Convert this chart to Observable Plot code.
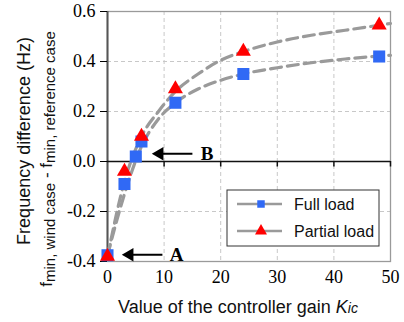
<!DOCTYPE html>
<html>
<head>
<meta charset="utf-8">
<script src="https://cdn.jsdelivr.net/npm/d3@7"></script>
<script src="https://cdn.jsdelivr.net/npm/@observablehq/plot@0.6"></script>
<style>
  body { margin: 0; background: #fff; }
  #chart svg { display: block; }
  #chart svg text { font-family: "Liberation Serif", "Times New Roman", serif !important; }
  #chart svg text.sans, #chart svg .sans text { font-family: "Liberation Sans", Arial, sans-serif !important; }
</style>
</head>
<body>
<div id="chart"></div>
<script>
// Measured frequency differences (Hz) against controller gain Kic
const fullK = [0, 3, 5, 6, 12, 24, 48];
const fullLoad = [-0.375, -0.09, 0.02, 0.08, 0.235, 0.35, 0.42];
const partialK = [0, 3, 6, 12, 24, 48];
const partialLoad = [-0.38, -0.04, 0.10, 0.29, 0.44, 0.545];

// Fitted trend curves (dashed)
const trendK = [0, 3, 6, 9, 12, 16, 20, 24, 30, 36, 42, 50];
const trendFull = [-0.375, -0.13, 0.06, 0.17, 0.235, 0.29, 0.325, 0.35, 0.375, 0.395, 0.41, 0.425];
const trendPartial = [-0.38, -0.08, 0.10, 0.20, 0.28, 0.35, 0.405, 0.44, 0.478, 0.505, 0.525, 0.552];

// Axis ticks
const xTicks = [0, 10, 20, 30, 40, 50];
const yTicks = [-0.4, -0.2, 0.0, 0.2, 0.4, 0.6];
const xGrid = [10, 20, 30, 40];
const yGrid = [-0.2, 0.2, 0.4];

// Annotations: arrows pointing at the labelled operating points
const noteLabels = ["A", "B"];
const noteY = [-0.373, 0.031];
const noteTipX = [2.8, 8.1];
const noteTailX = [9.7, 15.0];
const noteTextX = [12.2, 17.6];

const fullData = fullK.map((k, i) => ({k, v: fullLoad[i]}));
const partialData = partialK.map((k, i) => ({k, v: partialLoad[i]}));
const trendData = trendK.flatMap((k, i) => [
  {k, v: trendFull[i], s: "full"},
  {k, v: trendPartial[i], s: "partial"}
]);
const notes = noteLabels.map((t, i) => ({t, y: noteY[i], tip: noteTipX[i], tail: noteTailX[i], tx: noteTextX[i]}));

const blue = "#3069f5";
const red = "#ff0000";
const dashGray = "#9a9a9a";

const plot = Plot.plot({
  width: 404,
  height: 322,
  marginLeft: 107,
  marginRight: 14,
  marginTop: 11,
  marginBottom: 61,
  style: {background: "#fff", overflow: "visible"},
  x: {domain: [0, 50]},
  y: {domain: [-0.4, 0.6]},
  marks: [
    // dashed grid
    Plot.ruleX(xGrid, {stroke: "#c8c8c8", strokeDasharray: "4,3", strokeWidth: 1}),
    Plot.ruleY(yGrid, {stroke: "#c8c8c8", strokeDasharray: "4,3", strokeWidth: 1}),
    // plot frame
    Plot.frame({stroke: "#9a9a9a", strokeWidth: 1.3}),
    Plot.ruleX([0], {stroke: "#555", strokeWidth: 2}),
    // zero line with small ticks
    Plot.ruleY([0], {stroke: "#111", strokeWidth: 1.5}),
    Plot.ruleX(xTicks.slice(1), {y1: 0, y2: -0.022, stroke: "#111", strokeWidth: 1.5}),
    Plot.axisY({ticks: yTicks, tickFormat: d => d.toFixed(1), tickSize: 7, tickPadding: 5,
      fontSize: 18, label: null}),
    Plot.axisX({ticks: xTicks, tickFormat: d => String(d), tickSize: 0, tickPadding: 9,
      fontSize: 18, label: null}),
    // fitted trend lines
    Plot.line(trendData, {x: "k", y: "v", z: "s", curve: "monotone-x", stroke: dashGray,
      strokeWidth: 3.2, strokeDasharray: "11,6"}),
    // markers
    Plot.dot(fullData, {x: "k", y: "v", symbol: "square", r: 6.8, fill: blue, stroke: "none"}),
    Plot.dot(partialData, {x: "k", y: "v", symbol: "triangle", r: 5.6, fill: red, stroke: "none"}),
    // annotation arrows
    Plot.link(notes, {x1: "tail", x2: d => d.tip + 1.6, y1: "y", y2: "y", stroke: "#000", strokeWidth: 2}),
    Plot.dot(notes, {x: d => d.tip + 1.1, y: "y", symbol: "triangle", r: 5, rotate: -90, fill: "#000", stroke: "none"}),
    Plot.text(notes, {x: "tx", y: "y", text: "t", fontWeight: "bold", fontSize: 19, fill: "#000"})
  ]
});

document.getElementById("chart").appendChild(plot);
const svg = d3.select(plot);

// y-axis title, two lines
svg.append("text")
  .attr("class", "sans")
  .attr("transform", "translate(30,141) rotate(-90)")
  .attr("text-anchor", "middle")
  .attr("font-size", 18)
  .attr("fill", "#111")
  .text("Frequency difference (Hz)");

const sub = svg.append("text")
  .attr("class", "sans")
  .attr("transform", "translate(52,159) rotate(-90)")
  .attr("text-anchor", "middle")
  .attr("font-size", 17)
  .attr("fill", "#111");
sub.append("tspan").text("f");
sub.append("tspan").attr("font-size", 15).attr("dy", 3).text("min, wind case");
sub.append("tspan").attr("dy", -3).text(" - f");
sub.append("tspan").attr("font-size", 15).attr("dy", 3).text("min, reference case");

// x-axis title
const xt = svg.append("text")
  .attr("class", "sans")
  .attr("x", 238).attr("y", 313)
  .attr("text-anchor", "middle")
  .attr("font-size", 18)
  .attr("fill", "#111");
xt.append("tspan").text("Value of the controller gain ");
xt.append("tspan").attr("font-style", "italic").text("K");
xt.append("tspan").attr("font-style", "italic").attr("font-size", 14).text("ic");

// legend
const lg = svg.append("g").attr("class", "sans").attr("font-size", 16).attr("text-anchor", "start");
lg.append("rect").attr("x", 227).attr("y", 190).attr("width", 152).attr("height", 56)
  .attr("fill", "#fff").attr("stroke", "#333").attr("stroke-width", 1);
const entries = [
  {label: "Full load", color: blue, sym: d3.symbolSquare, size: 56, y: 204},
  {label: "Partial load", color: red, sym: d3.symbolTriangle, size: 62, y: 231}
];
for (const e of entries) {
  lg.append("line").attr("x1", 237).attr("x2", 282).attr("y1", e.y).attr("y2", e.y)
    .attr("stroke", dashGray).attr("stroke-width", 2.5);
  lg.append("path").attr("d", d3.symbol(e.sym, e.size)()).attr("transform", `translate(261,${e.y})`)
    .attr("fill", e.color);
  lg.append("text").attr("x", 294).attr("y", e.y).attr("dy", "0.36em").attr("fill", "#111").text(e.label);
}
</script>
</body>
</html>
